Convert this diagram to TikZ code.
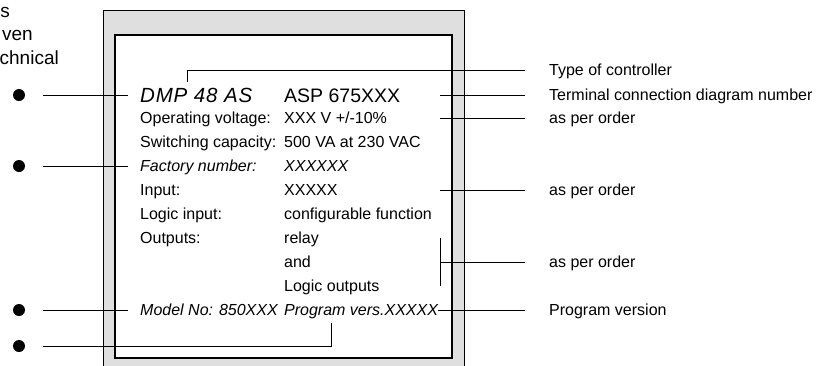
\documentclass[tikz,border=0pt]{standalone}
\usepackage{fontspec}
\setmainfont{Liberation Sans}
\usetikzlibrary{positioning}
\tikzset{
x=1pt, y=-1pt, % pixel-like units, y pointing down
plate/.style={anchor=west, inner sep=0pt, font=\fontsize{16}{19}\selectfont, text height=12pt, text depth=1pt}, % text lines on the type plate
big/.style={plate, font=\fontsize{19.5}{23}\selectfont, text height=14pt, text depth=0pt}, % controller name line
note/.style={anchor=east, inner sep=0pt, font=\fontsize{19}{23}\selectfont}, % cut text on the left
dot/.style={circle, fill=black, minimum size=12pt, inner sep=0pt}, % black marker dots
conn/.style={line width=1pt}, % connecting lines
}
\begin{document}
\begin{tikzpicture}
  \useasboundingbox (0,0) rectangle (822,365);
  % the plate
  \draw[fill=gray!25, line width=0.8pt] (103,10) rectangle (464,385);
  \draw[fill=white, line width=1.5pt] (115,35) rectangle (452,358);

  % cut text on the left
  \node[note] (note1) at (10,12) {s};
  \node[note] (note2) at (33,35) {ven};
  \node[note] (note3) at (59,58) {chnical};

  % first column
  \node[big] (dmp) at (140,95) {\fontsize{20.5}{23}\selectfont\itshape\addfontfeature{LetterSpace=4}DMP 48 AS};
  \node[plate, below=23pt of dmp.west, anchor=west] (voltage) {Operating voltage:};
  \node[plate, below=24pt of voltage.west, anchor=west] (switching) {Switching capacity:};
  \node[plate, below=24pt of switching.west, anchor=west] (factory) {\itshape Factory number:};
  \node[plate, below=24pt of factory.west, anchor=west] (input) {Input:};
  \node[plate, below=24pt of input.west, anchor=west] (logic) {Logic input:};
  \node[plate, below=24pt of logic.west, anchor=west] (outputs) {Outputs:};
  \node[plate, below=72pt of outputs.west, anchor=west] (model) {\itshape Model No: 850XXX};

  % second column
  \coordinate (col) at (284,0);
  \node[big] (asp) at (col |- dmp) {ASP 675XXX};
  \node[plate] (voltval) at (col |- voltage) {XXX V +/-10\%};
  \node[plate] (switchval) at (col |- switching) {500 VA at 230 VAC};
  \node[plate] (factval) at (col |- factory) {\itshape XXXXXX};
  \node[plate] (inputval) at (col |- input) {XXXXX};
  \node[plate] (logicval) at (col |- logic) {configurable function};
  \node[plate] (relay) at (col |- outputs) {relay};
  \node[plate, below=24pt of relay.west, anchor=west] (andval) {and};
  \node[plate, below=24pt of andval.west, anchor=west] (logicout) {Logic outputs};
  \node[plate] (progver) at (col |- model) {\itshape Program vers.XXXXX};

  % labels on the right
  \coordinate (rcol) at (549,0);
  \node[plate] (typelbl) at (549,70) {Type of controller};
  \node[plate] (termlbl) at (rcol |- asp) {Terminal connection diagram number};
  \node[plate] (order1) at (rcol |- voltage) {as per order};
  \node[plate] (order2) at (rcol |- input) {as per order};
  \node[plate] (order3) at (rcol |- andval) {as per order};
  \node[plate] (proglbl) at (rcol |- progver) {Program version};

  % dots on the left
  \node[dot] (d1) at (19,95) {};
  \node[dot] (d2) at (d1 |- factory) {};
  \node[dot] (d3) at (d1 |- model) {};
  \node[dot] (d4) at (19,346) {};

  \coordinate (typetick) at (187,82);
  \coordinate (progtick) at (331,323);
  \coordinate (inx) at (440,0);

  \draw[conn, shorten <=18pt, shorten >=12pt] (d1) -- (dmp);
  \draw[conn, shorten <=18pt, shorten >=12pt] (d2) -- (factory);
  \draw[conn, shorten <=18pt, shorten >=12pt] (d3) -- (model);
  \draw[conn, shorten <=18pt] (d4) -| (progtick);
  \draw[conn, shorten >=24pt] (typetick) |- (typelbl);
  \draw[conn, shorten >=24pt] (inx |- termlbl) -- (termlbl);
  \draw[conn, shorten >=24pt] (inx |- order1) -- (order1);
  \draw[conn, shorten >=24pt] (inx |- order2) -- (order2);
  \draw[conn] (inx |- relay) -- (inx |- logicout);
  \draw[conn, shorten >=24pt] (inx |- order3) -- (order3);
  \draw[conn, shorten >=24pt] (progver) -- (proglbl);
\end{tikzpicture}
\end{document}
